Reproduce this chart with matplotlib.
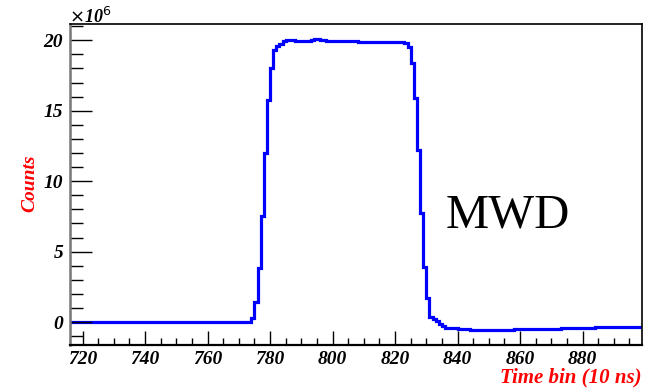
import numpy as np
import matplotlib
matplotlib.use("Agg")
import matplotlib.pyplot as plt
from matplotlib.ticker import MultipleLocator

# ---- data (counts in units of 1e6), one value per 10 ns time bin ----
bin_start = 716
baseline = [0.03, 0.03, 0.02, 0.03, 0.02, 0.02, 0.03, 0.02, 0.02, 0.03,
            0.02, 0.02, 0.03, 0.02, 0.02, 0.03, 0.02, 0.02, 0.03, 0.02,
            0.02, 0.03, 0.02, 0.02, 0.03, 0.02, 0.02, 0.03, 0.02, 0.02,
            0.03, 0.02, 0.02, 0.03, 0.02, 0.02, 0.03, 0.02, 0.02, 0.03,
            0.02, 0.02, 0.03, 0.02, 0.02, 0.03, 0.02, 0.02, 0.03, 0.02,
            0.02, 0.03, 0.02, 0.02, 0.03, 0.02, 0.02, 0.03]          # 716-773
rise = [0.26, 1.44, 3.85, 7.54, 12.0, 15.74, 18.05, 19.34, 19.57, 19.76]  # 774-783
plateau = [19.95, 20.0, 20.04, 20.04, 19.95, 19.92, 19.92, 19.95, 19.95, 20.02,
           20.1, 20.1, 20.04, 20.0, 19.97, 19.93, 19.92, 19.95, 19.96, 19.96,
           19.97, 19.96, 19.96, 19.95, 19.88, 19.87, 19.86, 19.86, 19.87, 19.86,
           19.9, 19.9, 19.86, 19.86, 19.86, 19.86, 19.86, 19.85, 19.85]  # 784-822
fall = [19.8, 19.55, 18.35, 15.87, 12.2, 7.71, 3.92, 1.68, 0.38, 0.2,
        0.05, -0.1, -0.28]                                         # 823-835
tail = [-0.38, -0.38, -0.38, -0.4, -0.45, -0.45, -0.52, -0.52,
        -0.57, -0.57, -0.57, -0.57, -0.57, -0.57, -0.57, -0.57, -0.57, -0.57,
        -0.57, -0.57, -0.57, -0.57,
        -0.52, -0.52, -0.5, -0.5, -0.5, -0.52, -0.52, -0.5, -0.5, -0.5, -0.5,
        -0.45, -0.45, -0.45, -0.45, -0.42, -0.42,
        -0.4, -0.4, -0.4, -0.4, -0.4, -0.4, -0.4, -0.4, -0.4,
        -0.36, -0.36, -0.36, -0.36, -0.36, -0.33, -0.33,
        -0.36, -0.36, -0.36, -0.36, -0.36, -0.36, -0.36, -0.36]    # 836-898
counts_millions = baseline + rise + plateau + fall + tail
edges = np.arange(bin_start, bin_start + len(counts_millions) + 1)

x_ticks = [720, 740, 760, 780, 800, 820, 840, 860, 880]
y_ticks = [0, 5, 10, 15, 20]

serif = "Liberation Serif"

fig = plt.figure(figsize=(6.56, 3.88), dpi=100)
ax = fig.add_axes([70/656, 43/388, 572/656, 321/388])

ax.stairs(counts_millions, edges, color="#0000ff", linewidth=2.3, baseline=None)

ax.set_xlim(716, 899)
ax.set_ylim(-1.62, 21.15)

ax.set_xticks(x_ticks)
ax.set_yticks(y_ticks)
ax.xaxis.set_minor_locator(MultipleLocator(5))
ax.yaxis.set_minor_locator(MultipleLocator(1))

ax.tick_params(axis="x", which="major", direction="in", length=10, width=1.0, pad=4, color="black")
ax.tick_params(axis="x", which="minor", direction="in", length=5, width=1.0, color="black")
ax.tick_params(axis="y", which="major", direction="in", length=16, width=1.0, pad=5, color="black")
ax.tick_params(axis="y", which="minor", direction="in", length=9, width=1.0, color="black")
ax.tick_params(top=False, right=False, which="both")

for lab in ax.get_xticklabels() + ax.get_yticklabels():
    lab.set_fontfamily(serif)
    lab.set_fontweight("bold")
    lab.set_fontstyle("italic")
    lab.set_fontsize(14)

ax.spines["left"].set_color("#777777")
ax.spines["left"].set_linewidth(1.8)
ax.spines["bottom"].set_color("black")
ax.spines["bottom"].set_linewidth(1.6)
ax.spines["top"].set_linewidth(1.2)
ax.spines["right"].set_linewidth(1.2)

fig.text(69/656, 1 - 17/388, r"$\times$10$^{6}$", fontfamily=serif, fontweight="bold",
         fontstyle="italic", fontsize=13, ha="left", va="center")

fig.text(30/656, 1 - 183/388, "Counts", color="red", fontfamily=serif, fontweight="bold",
         fontstyle="italic", fontsize=14, rotation=90, ha="center", va="center")

fig.text(642/656, 1 - 377/388, "Time bin (10 ns)", color="red", fontfamily=serif,
         fontweight="bold", fontstyle="italic", fontsize=15, ha="right", va="center")

ax.text(446/656, 1 - 215/388, "MWD", transform=fig.transFigure, fontfamily=serif,
        fontsize=35, ha="left", va="center", color="black")

fig.savefig("out.png", dpi=100)
